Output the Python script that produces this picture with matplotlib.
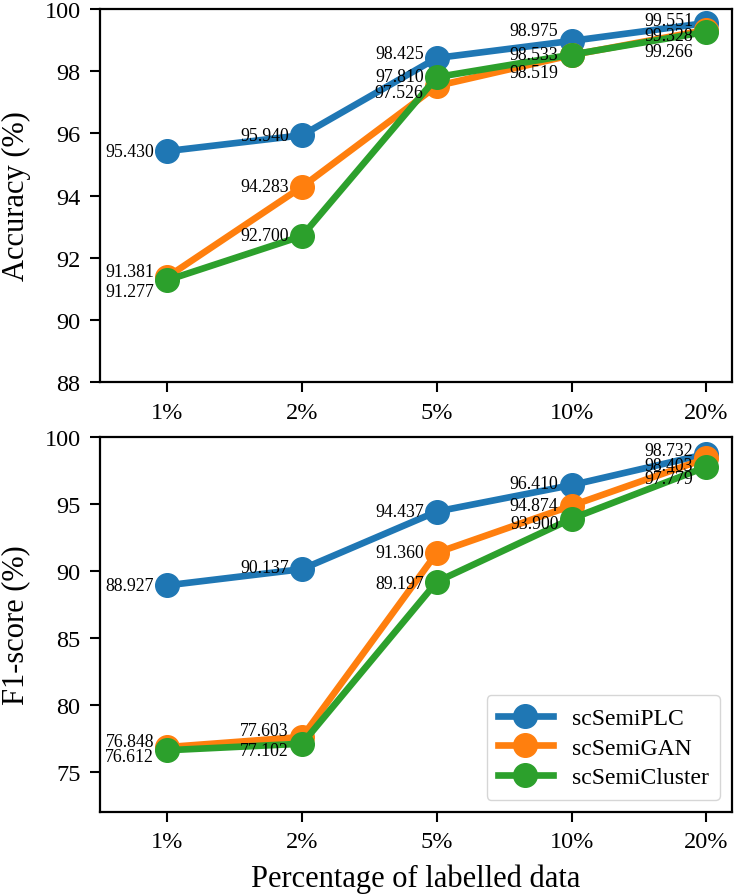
import matplotlib
matplotlib.use("Agg")
import matplotlib.pyplot as plt

categories = ["1%", "2%", "5%", "10%", "20%"]
methods = ["scSemiPLC", "scSemiGAN", "scSemiCluster"]

acc_plc = [95.430, 95.940, 98.425, 98.975, 99.551]
acc_gan = [91.381, 94.283, 97.526, 98.519, 99.328]
acc_cluster = [91.277, 92.700, 97.810, 98.533, 99.266]

f1_plc = [88.927, 90.137, 94.437, 96.410, 98.732]
f1_gan = [76.848, 77.603, 91.360, 94.874, 98.403]
f1_cluster = [76.612, 77.102, 89.197, 93.900, 97.779]

# label vertical offsets in pixels (positive = down), per method per category
acc_offsets = [[0, 0, -4, -10, -2],
               [-5, 0, 7, 17, 6],
               [11, 0, -1, 0, 20]]
f1_offsets = [[0, -2, 0, -2, -3],
              [-6, -6, 0, 0, 7],
              [6, 7, 2, 5, 12]]

colors = ["#1f77b4", "#ff7f0e", "#2ca02c"]

plt.rcParams['font.family'] = ['Liberation Serif', 'DejaVu Serif']
plt.rcParams['mathtext.fontset'] = 'stix'

fig = plt.figure(figsize=(7.35, 8.95), dpi=100)
ax1 = fig.add_axes([0.136, 0.572, 0.8599, 0.4168])
ax2 = fig.add_axes([0.136, 0.0916, 0.8599, 0.419])

x = list(range(len(categories)))
px2pt = 72 / 100


def draw(ax, series, offsets, ylim, yticks, ylabel):
    for s, name, c, offs in zip(series, methods, colors, offsets):
        ax.plot(x, s, '-o', color=c, lw=4.8, markersize=17, label=name)
        for xi, yi, o in zip(x, s, offs):
            ax.annotate(f"{yi:.3f}", (xi, yi), xytext=(-9.5, -o * px2pt),
                        textcoords='offset points', ha='right', va='center',
                        fontsize=12.8, color='black', zorder=5)
    ax.set_xlim(-0.5, 4.19)
    ax.set_ylim(*ylim)
    ax.set_yticks(yticks)
    ax.set_xticks(x)
    ax.set_xticklabels(categories)
    ax.tick_params(labelsize=17.5, length=7, width=1.5, pad=7)
    for sp in ax.spines.values():
        sp.set_linewidth(1.6)
    ax.set_ylabel(ylabel, fontsize=22, labelpad=10)


draw(ax1, [acc_plc, acc_gan, acc_cluster], acc_offsets, (88, 100),
     [88, 90, 92, 94, 96, 98, 100], "Accuracy (%)")
draw(ax2, [f1_plc, f1_gan, f1_cluster], f1_offsets, (72, 100),
     [75, 80, 85, 90, 95, 100], "F1-score (%)")
ax2.set_xlabel("Percentage of labelled data", fontsize=22, labelpad=8)
ax2.legend(loc='lower right', fontsize=17, handlelength=2.3,
           borderpad=0.5, labelspacing=0.35, framealpha=0.8)

fig.savefig("out.png", dpi=100)
